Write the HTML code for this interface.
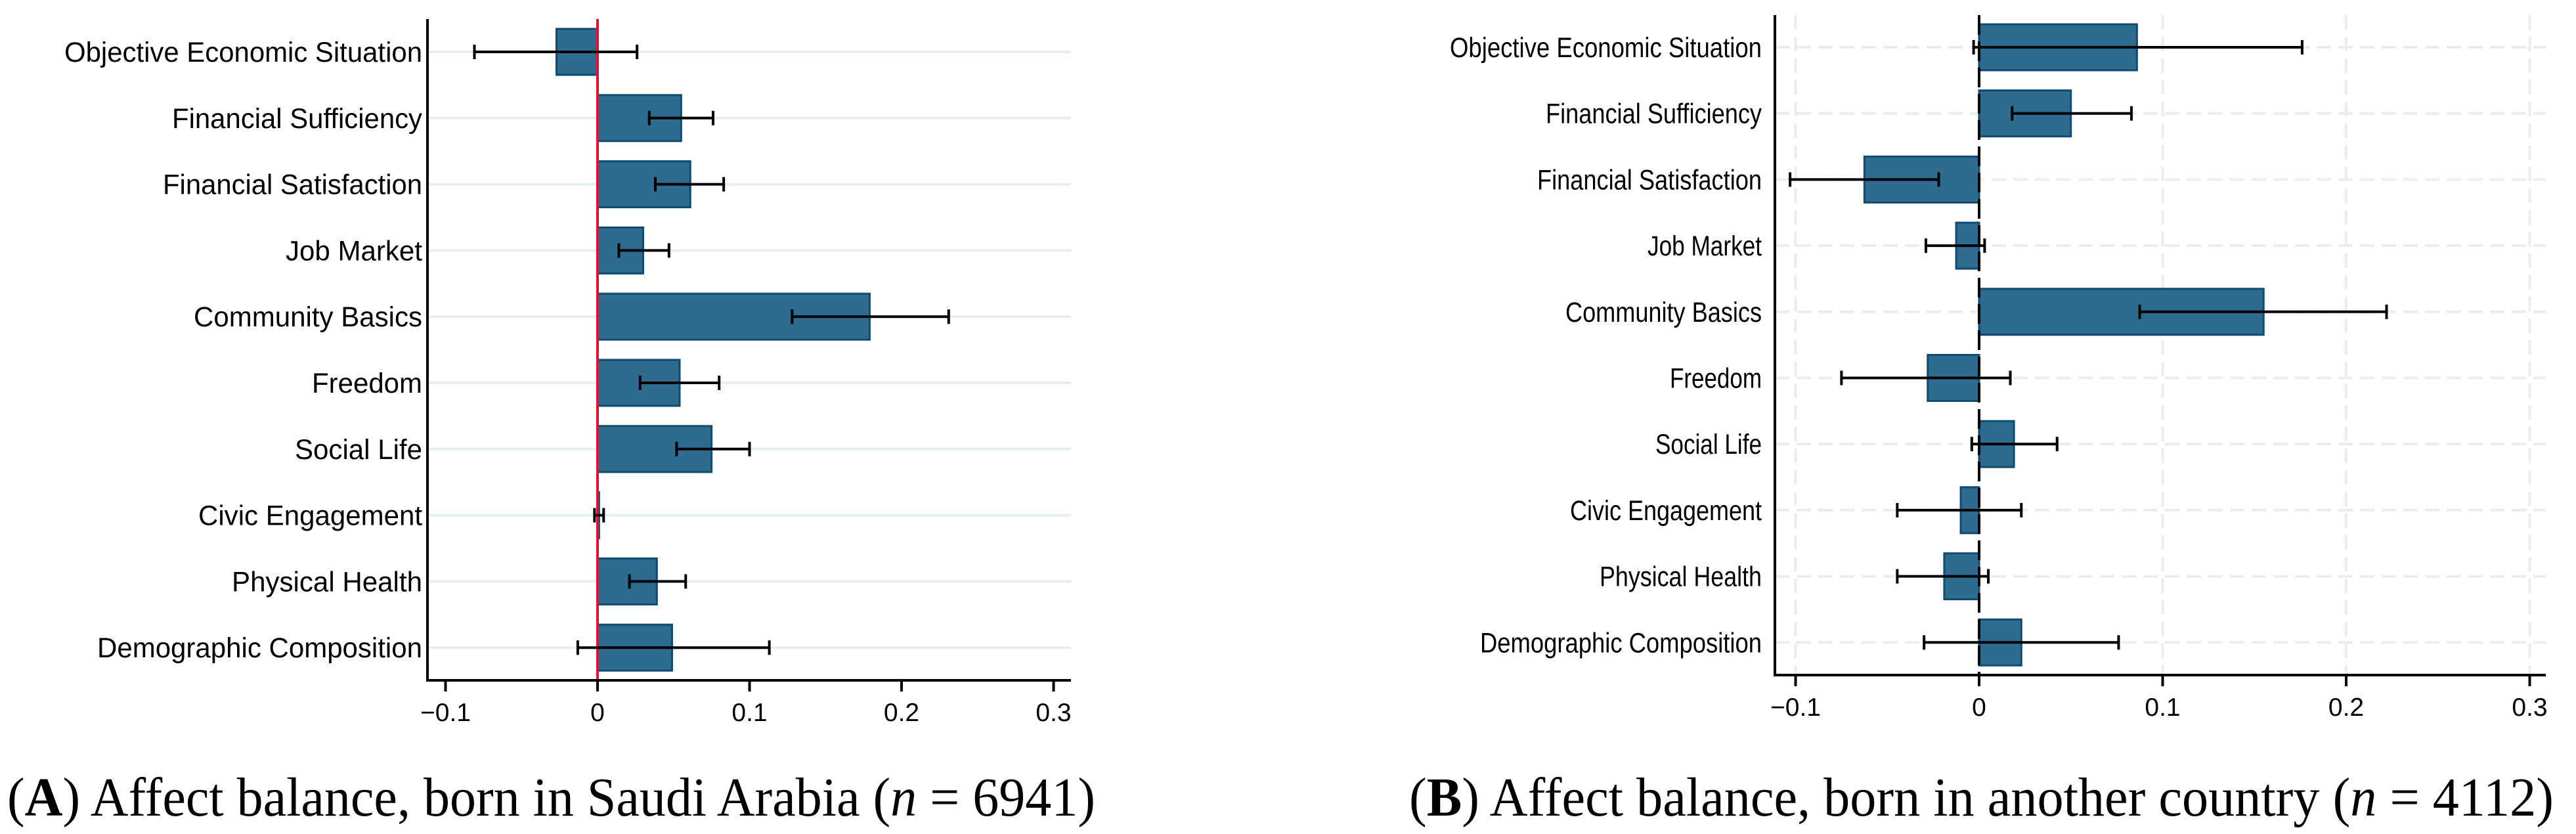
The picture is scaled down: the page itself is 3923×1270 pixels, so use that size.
<!DOCTYPE html>
<html><head><meta charset="utf-8"><style>
html,body{margin:0;padding:0;background:#fff;}
svg{display:block;}
</style></head><body>
<svg id="chart" width="3923" height="1270" viewBox="0 0 3923 1270" xmlns="http://www.w3.org/2000/svg"></svg>
<script>
const categories = ["Objective Economic Situation","Financial Sufficiency","Financial Satisfaction","Job Market","Community Basics","Freedom","Social Life","Civic Engagement","Physical Health","Demographic Composition"];
const tickValues = [-0.1, 0, 0.1, 0.2, 0.3];
const tickLabels = ["\u22120.1","0","0.1","0.2","0.3"];
const valuesA = [-0.027,0.055,0.061,0.030,0.179,0.054,0.075,0.001,0.039,0.049];
const lowA = [-0.081,0.034,0.038,0.014,0.128,0.028,0.052,-0.002,0.021,-0.013];
const highA = [0.026,0.076,0.083,0.047,0.231,0.080,0.100,0.004,0.058,0.113];
const valuesB = [0.086,0.050,-0.0625,-0.0125,0.155,-0.028,0.019,-0.010,-0.019,0.023];
const lowB = [-0.003,0.018,-0.103,-0.029,0.0875,-0.075,-0.004,-0.0446,-0.0446,-0.030];
const highB = [0.176,0.083,-0.022,0.003,0.222,0.017,0.0425,0.023,0.005,0.076];

const NS = "http://www.w3.org/2000/svg";
const svg = document.getElementById('chart');
function mk(tag, attrs, parent){
  const e = document.createElementNS(NS, tag);
  for (const k in attrs) e.setAttribute(k, attrs[k]);
  (parent||svg).appendChild(e);
  return e;
}

const panels = [
  {key:'a', values:valuesA, low:lowA, high:highA, axisX:651, right:1631, top:29, bottom:1036, zero:910, unit:2315, row0:79, rowStep:100.8,
   labelEnd:643, labelW:[545,381,395,208,348,168,194,341,290,495], style:'A',
   caption:{x:11, w:1657, letter:'A', text:' Affect balance, born in Saudi Arabia (', n:'6941'}},
  {key:'b', values:valuesB, low:lowB, high:highB, axisX:2703, right:3877, top:23, bottom:1028, zero:3014, unit:2795, row0:72, rowStep:100.7,
   labelEnd:2683, labelW:[475,329,342,174,299,140,162,292,247,429], style:'B',
   caption:{x:2146, w:1743, letter:'B', text:' Affect balance, born in another country (', n:'4112'}}
];

panels.forEach(p => {
  const g = mk('g', {});
  
  
  const xs = v => p.zero + v * p.unit;
  const ys = i => p.row0 + i * p.rowStep;

  if (p.style === 'A') {
    categories.forEach((c, i) => {
      const l = mk('line', {x1:p.axisX, x2:p.right, y1:ys(i), y2:ys(i), stroke:'#e6eff0', 'stroke-width':4}, g);
      
      
    });
  } else {
    tickValues.forEach(t => {
      if (t === 0) return;
      const l = mk('line', {x1:xs(t), x2:xs(t), y1:p.top, y2:p.bottom, stroke:'#ececec', 'stroke-width':4, 'stroke-dasharray':'22 11'}, g);
      
      
    });
    categories.forEach((c, i) => {
      const l = mk('line', {x1:p.axisX, x2:p.right, y1:ys(i), y2:ys(i), stroke:'#ececec', 'stroke-width':4, 'stroke-dasharray':'22 11'}, g);
      
      
    });
  }

  categories.forEach((c, i) => {
    const v = p.values[i];
    const x0 = Math.min(xs(0), xs(v)), w = Math.max(Math.abs(xs(v) - xs(0)), 1.5);
    const r = mk('rect', {x:x0, y:ys(i)-35, width:w, height:70, fill:'#2e6b8e', stroke:'#0f4a72', 'stroke-width':3}, g);
    
    
  });

  if (p.style === 'A') {
    const z = mk('line', {x1:xs(0), x2:xs(0), y1:p.top, y2:p.bottom, stroke:'#e3112f', 'stroke-width':4}, g);
    
    
  } else {
    const z = mk('line', {x1:xs(0), x2:xs(0), y1:p.top, y2:p.bottom, stroke:'#000', 'stroke-width':4, 'stroke-dasharray':'30 10'}, g);
    
    
  }

  categories.forEach((c, i) => {
    const y = ys(i);
    const eg = mk('g', {stroke:'#000', 'stroke-width':4}, g);
    
    
    mk('line', {x1:xs(p.low[i]), x2:xs(p.high[i]), y1:y, y2:y}, eg);
    mk('line', {x1:xs(p.low[i]), x2:xs(p.low[i]), y1:y-11, y2:y+11}, eg);
    mk('line', {x1:xs(p.high[i]), x2:xs(p.high[i]), y1:y-11, y2:y+11}, eg);
  });

  const ya = mk('line', {x1:p.axisX, x2:p.axisX, y1:p.top, y2:p.bottom+2, stroke:'#000', 'stroke-width':4}, g);
  
  
  const xa = mk('line', {x1:p.axisX-2, x2:p.right, y1:p.bottom, y2:p.bottom, stroke:'#000', 'stroke-width':4}, g);
  
  

  tickValues.forEach((t, k) => {
    const tl = mk('line', {x1:xs(t), x2:xs(t), y1:p.bottom, y2:p.bottom+17, stroke:'#000', 'stroke-width':4}, g);
    
    
    const tx = mk('text', {x:xs(t), y:p.bottom+62, 'text-anchor':'middle', 'font-family':'Liberation Sans, sans-serif', 'font-size':39, fill:'#000'}, g);
    tx.textContent = tickLabels[k];
    
    
  });

  categories.forEach((c, i) => {
    const w = p.labelW[i];
    const tx = mk('text', {x:p.labelEnd - w, y:ys(i)+15, 'font-family':'Liberation Sans, sans-serif', 'font-size':43, fill:'#000', textLength:w, lengthAdjust:'spacingAndGlyphs'}, g);
    tx.textContent = c;
    
    
  });

  const cap = mk('text', {x:p.caption.x, y:1242, 'font-family':'Liberation Serif, serif', 'font-size':84, fill:'#000', textLength:p.caption.w, lengthAdjust:'spacingAndGlyphs'}, g);
  
  
  const t1 = mk('tspan', {}, cap); t1.textContent = '(';
  const t2 = mk('tspan', {'font-weight':'bold'}, cap); t2.textContent = p.caption.letter;
  const t3 = mk('tspan', {}, cap); t3.textContent = ')' + p.caption.text;
  const t4 = mk('tspan', {'font-style':'italic'}, cap); t4.textContent = 'n';
  const t5 = mk('tspan', {}, cap); t5.textContent = ' = ' + p.caption.n + ')';
});
</script>
</body></html>
